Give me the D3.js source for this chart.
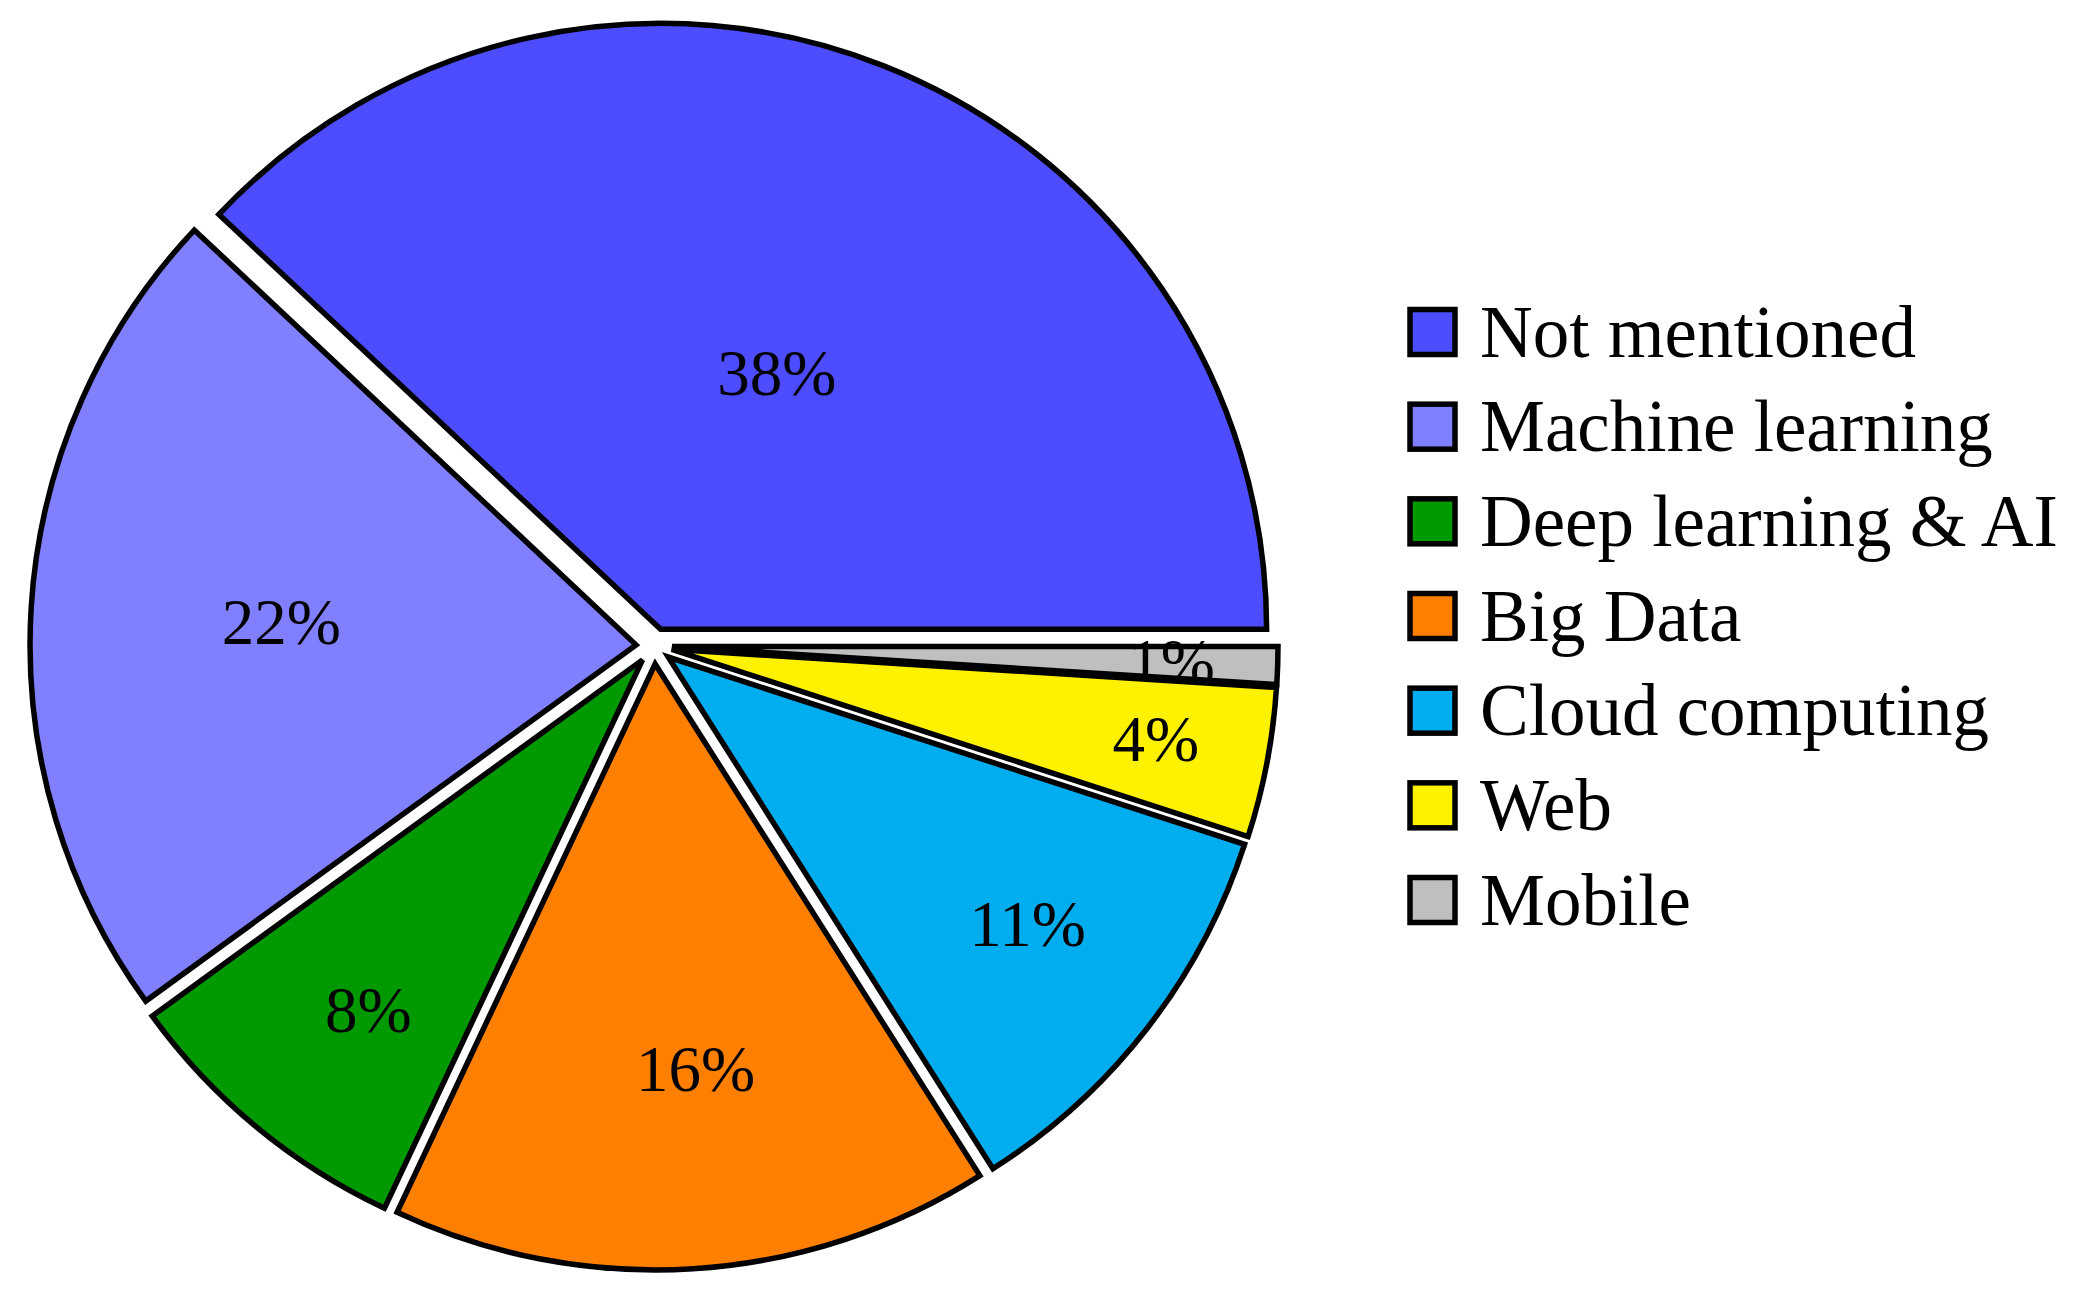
<!DOCTYPE html>
<html><head><meta charset="utf-8">
<script src="https://cdn.jsdelivr.net/npm/d3@7"></script>
<style>body{margin:0;background:#fff} svg{display:block}</style>
</head><body>
<script>
const categories = ["Not mentioned","Machine learning","Deep learning & AI","Big Data","Cloud computing","Web","Mobile"];
const values = [38,22,8,16,11,4,1];
const colors = ["#4d4dff","#8080ff","#009900","#ff8000","#00aeef","#fff200","#bfbfbf"];

const W = 2085, H = 1294;
const svg = d3.select("body").append("svg").attr("width", W).attr("height", H);
svg.append("rect").attr("width", W).attr("height", H).attr("fill", "#fff");

const cx = 654, cy = 646, R = 606, explode = 18;
const pie = d3.pie().sort(null).startAngle(Math.PI / 2).endAngle(Math.PI / 2 - 2 * Math.PI);
const arcs = pie(values);
const arc = d3.arc().innerRadius(0).outerRadius(R);
const g = svg.append("g").attr("transform", `translate(${cx},${cy})`);

d3.range(arcs.length).reverse().forEach(i => {
  const a = arcs[i];
  const mid = (a.startAngle + a.endAngle) / 2;
  const ox = explode * Math.sin(mid), oy = -explode * Math.cos(mid);
  const sg = g.append("g").attr("transform", `translate(${ox},${oy})`);
  sg.append("path").attr("d", arc(a)).attr("fill", colors[i])
    .attr("stroke", "#000").attr("stroke-width", 5.5).attr("stroke-linejoin", "miter");
  const span = Math.abs(a.endAngle - a.startAngle) * 180 / Math.PI;
  const f = Math.max(Math.min((span - 10) / 110 * (-0.3), 0), -0.5) + 0.8;
  const lr = f * R;
  sg.append("text")
    .attr("x", lr * Math.sin(mid) + 15)
    .attr("y", -lr * Math.cos(mid))
    .attr("dy", "0.34em")
    .attr("text-anchor", "middle")
    .attr("font-family", "'Liberation Serif', serif")
    .attr("font-size", 65)
    .attr("fill", "#000")
    .text(values[i] + "%");
});

const legend = svg.append("g");
const ly = d3.scalePoint().domain(categories).range([332, 900]);
categories.forEach((c, i) => {
  const y = ly(c);
  legend.append("rect").attr("x", 1410).attr("y", y - 22.5).attr("width", 45).attr("height", 45)
    .attr("fill", colors[i]).attr("stroke", "#000").attr("stroke-width", 5.5);
  legend.append("text").attr("x", 1480).attr("y", y + 24.5)
    .attr("font-family", "'Liberation Serif', serif").attr("font-size", 73)
    .attr("fill", "#000").text(c);
});
</script>
</body></html>
